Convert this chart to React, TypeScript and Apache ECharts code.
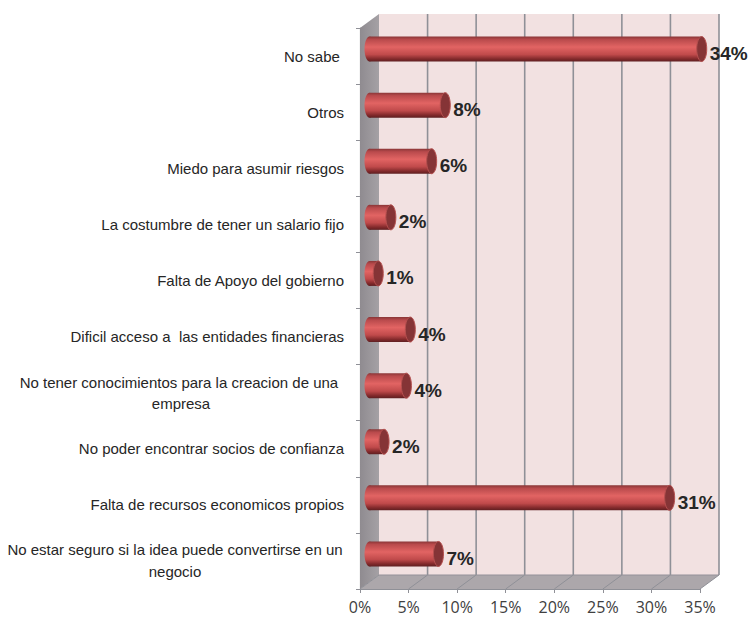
import React, { useEffect, useRef } from "react";
import * as echarts from "echarts";

const categories = [
  "No sabe ",
  "Otros",
  "Miedo para asumir riesgos",
  "La costumbre de tener un salario fijo",
  "Falta de Apoyo del gobierno",
  "Dificil acceso a  las entidades financieras",
  "No tener conocimientos para la creacion de una \nempresa",
  "No poder encontrar socios de confianza",
  "Falta de recursos economicos propios",
  "No estar seguro si la idea puede convertirse en un\nnegocio",
];
const values = [34.2, 7.8, 6.4, 2.2, 0.9, 4.2, 3.8, 1.5, 30.9, 7.1];
const xTicks = [0, 5, 10, 15, 20, 25, 30, 35];

const DX = 19;
const DY = -14;
const RX = 5;

const renderWalls = (params: any, api: any) => {
  const cs = params.coordSys;
  const x0 = cs.x, x1 = cs.x + cs.width, y0 = cs.y, y1 = cs.y + cs.height;
  const poly = (points: number[][], style: any) => ({ type: "polygon", shape: { points }, style });
  const children: any[] = [
    poly([[x0 + DX, y0 + DY], [x1 + DX, y0 + DY], [x1 + DX, y1 + DY], [x0 + DX, y1 + DY]], { fill: "#f2e1e1" }),
    poly([[x0, y0], [x0 + DX, y0 + DY], [x0 + DX, y1 + DY], [x0, y1]], {
      fill: new echarts.graphic.LinearGradient(0, 0, 1, 0, [
        { offset: 0, color: "#8f8b90" },
        { offset: 1, color: "#a5a1a5" },
      ]),
    }),
    poly([[x0, y1], [x0 + DX, y1 + DY], [x1 + DX, y1 + DY], [x1, y1]], { fill: "#aca7ab" }),
  ];
  const lineStyle = { stroke: "#8f9097", lineWidth: 1.6 };
  xTicks.forEach((t) => {
    const x = api.coord([t, 0])[0];
    if (t > 0) {
      children.push({ type: "line", shape: { x1: x + DX, y1: y0 + DY, x2: x + DX, y2: y1 + DY }, style: lineStyle });
    }
    children.push({ type: "line", shape: { x1: x, y1, x2: x + DX, y2: y1 + DY }, style: { stroke: "#8f9097", lineWidth: 1 } });
  });
  children.push({ type: "line", shape: { x1: x0 + DX, y1: y1 + DY, x2: x1 + DX, y2: y1 + DY }, style: { stroke: "#93929a", lineWidth: 1.2 } });
  return { type: "group", children };
};

const renderBar = (_params: any, api: any) => {
  const v = api.value(0);
  const idx = api.value(1);
  const start = api.coord([0, idx]);
  const end = api.coord([v, idx]);
  const h = api.size([0, 1])[1] * 0.445;
  const cx0 = start[0] + DX / 2;
  const cx1 = end[0] + DX / 2;
  const cy = start[1] + DY / 2;
  const ry = h / 2;
  const body = new echarts.graphic.LinearGradient(0, 0, 0, 1, [
    { offset: 0, color: "#8a3637" },
    { offset: 0.12, color: "#b94a4c" },
    { offset: 0.42, color: "#e26463" },
    { offset: 0.72, color: "#c04a4b" },
    { offset: 0.9, color: "#81292b" },
    { offset: 1, color: "#5f1f21" },
  ]);
  return {
    type: "group",
    children: [
      { type: "ellipse", shape: { cx: cx0, cy, rx: RX, ry }, style: { fill: body } },
      { type: "rect", shape: { x: cx0, y: cy - ry, width: cx1 - cx0, height: h }, style: { fill: body } },
      { type: "ellipse", shape: { cx: cx1, cy, rx: RX, ry }, style: { fill: "#853436", stroke: "#b5504f", lineWidth: 1 } },
      {
        type: "text",
        x: cx1 + RX + 3,
        y: cy + 4.5,
        style: {
          text: Math.round(v) + "%",
          fill: "#262626",
          font: "bold 19px 'Liberation Sans', Arial, sans-serif",
          textAlign: "left",
          textVerticalAlign: "middle",
        },
      },
    ],
  };
};

const formatCategory = (value: string) => {
  const lines = value.split("\n");
  if (lines.length === 1) return value;
  const style = lines[0].length > 48 ? "wide" : "narrow";
  return lines.map((l) => `{${style}|${l}}`).join("\n");
};

export default function App() {
  const ref = useRef<HTMLDivElement>(null);
  useEffect(() => {
    const chart = echarts.init(ref.current!, undefined, { renderer: "svg" });
    chart.setOption({
      animation: false,
      backgroundColor: "#ffffff",
      grid: { left: 360, right: 51, top: 28, bottom: 30 },
      xAxis: {
        type: "value",
        min: 0,
        max: 35,
        interval: 5,
        splitLine: { show: false },
        axisLine: { show: true, lineStyle: { color: "#8f9097", width: 1.2 } },
        axisTick: { show: true, length: 4, lineStyle: { color: "#8f9097" } },
        axisLabel: {
          formatter: "{value}%",
          color: "#404040",
          fontFamily: "'Open Sans', sans-serif",
          fontSize: 16,
          margin: 10,
          hideOverlap: false,
        },
      },
      yAxis: {
        type: "category",
        inverse: true,
        data: categories,
        axisLine: { show: true, lineStyle: { color: "#8f9097", width: 1.2 } },
        axisTick: { show: true, length: 4, lineStyle: { color: "#8f9097" } },
        axisLabel: {
          interval: 0,
          margin: 16,
          color: "#262626",
          fontFamily: "'Liberation Sans', Arial, sans-serif",
          fontSize: 15,
          lineHeight: 21,
          formatter: formatCategory,
          rich: {
            wide: { width: 338, align: "center", fontSize: 15, lineHeight: 22, color: "#262626", fontFamily: "'Liberation Sans', Arial, sans-serif" },
            narrow: { width: 326, align: "center", fontSize: 15, lineHeight: 21, color: "#262626", fontFamily: "'Liberation Sans', Arial, sans-serif" },
          },
        },
      },
      series: [
        {
          type: "custom",
          silent: true,
          z: 1,
          clip: false,
          renderItem: renderWalls,
          data: [[0, 0]],
          encode: { x: 0, y: 1 },
        },
        {
          type: "custom",
          z: 3,
          clip: false,
          renderItem: renderBar,
          data: values.map((v, i) => [v, i]),
          encode: { x: 0, y: 1 },
        },
      ],
    });
    return () => chart.dispose();
  }, []);
  return <div ref={ref} style={{ position: "absolute", left: 0, top: 0, width: 751, height: 619 }} />;
}
